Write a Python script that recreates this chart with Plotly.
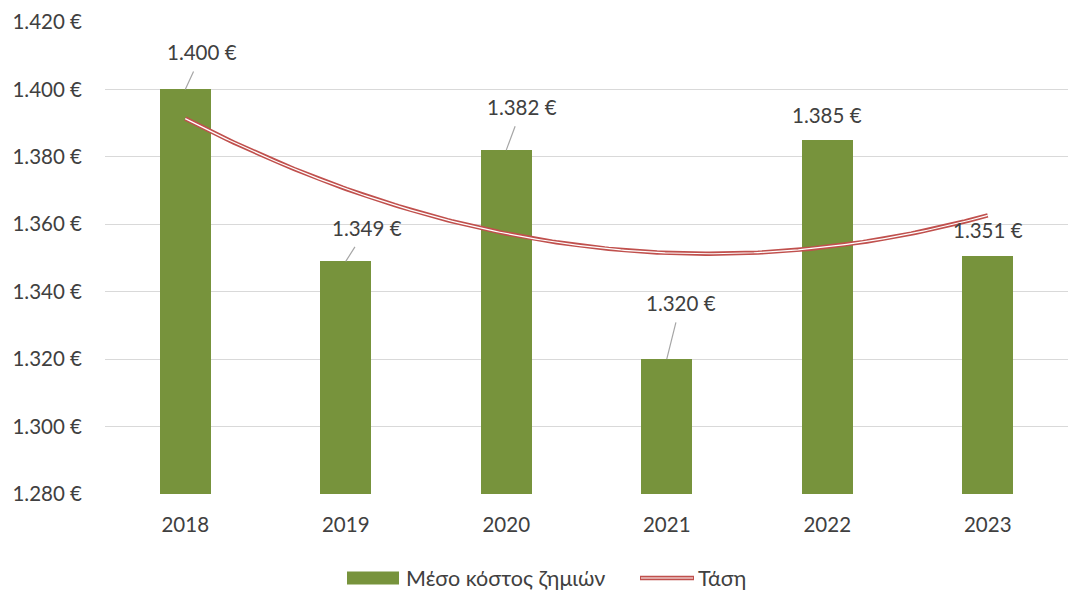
import numpy as np
import plotly.graph_objects as go

years = ["2018", "2019", "2020", "2021", "2022", "2023"]
avg_cost = [1400, 1349, 1382, 1320, 1385, 1350.6]
y_ticks = [1280, 1300, 1320, 1340, 1360, 1380, 1400, 1420]
y_tick_text = ["1.280 €", "1.300 €", "1.320 €", "1.340 €", "1.360 €", "1.380 €", "1.400 €", "1.420 €"]
series_name = "Μέσο κόστος ζημιών"
trend_name = "Τάση"

# label offsets (pixels) from bar top: (dx, dy, leader)
label_offsets = [(17, -37, True), (21, -33, True), (16, -43, True), (14, -56, True), (0, -25, False), (0, -26, False)]

FONT = "Lato, 'Noto Sans', sans-serif"
TXT = "#404040"
GREEN = "#77933C"
RED = "#C0504D"
FS = 20.5

W, H = 1068, 593
ML, MR, MT, MB = 105, 0, 22, 99
PW, PH = W - ML - MR, H - MT - MB

xpos = np.arange(1, len(years) + 1)

fig = go.Figure()
fig.add_trace(go.Bar(
    x=xpos, y=avg_cost, width=0.315, marker=dict(color=GREEN, line=dict(width=0)),
    name=series_name, showlegend=False,
))

# polynomial (order 2) trend line
coef = np.polyfit(xpos, avg_cost, 2)
xs = np.linspace(1, len(years), 200)
ys = np.polyval(coef, xs)
fig.add_trace(go.Scatter(x=xs, y=ys, mode="lines", line=dict(color=RED, width=4.4),
                         name=trend_name, hoverinfo="skip", showlegend=False))
fig.add_trace(go.Scatter(x=xs, y=ys, mode="lines", line=dict(color="white", width=1.2),
                         showlegend=False, hoverinfo="skip"))

def fmt(v):
    return f"{v:,.0f}".replace(",", ".") + " €"

for xi, v, (dx, dy, leader) in zip(xpos, avg_cost, label_offsets):
    if leader:
        fig.add_annotation(
            x=xi, y=v, xref="x", yref="y", text=fmt(v), ax=dx, ay=dy,
            showarrow=True, arrowhead=0, arrowwidth=1.2, arrowcolor="#A6A6A6",
            startstandoff=6, font=dict(family=FONT, size=FS, color=TXT),
        )
    else:
        fig.add_annotation(
            x=xi, y=v, xref="x", yref="y", text=fmt(v), showarrow=False,
            xshift=dx, yshift=-dy, font=dict(family=FONT, size=FS, color=TXT),
        )

# manual legend (pixel positions converted to paper coords)
def px(xp):
    return (xp - ML) / PW

def py(yp):
    return (H - MB - yp) / PH

leg_y = 578
fig.add_shape(type="rect", xref="paper", yref="paper", x0=px(347), x1=px(399),
              y0=py(584.5), y1=py(571.5), fillcolor=GREEN, line=dict(width=0))
fig.add_annotation(xref="paper", yref="paper", x=px(404), y=py(leg_y), xanchor="left",
                   yanchor="middle", text=series_name, showarrow=False,
                   font=dict(family=FONT, size=21.5, color=TXT))
fig.add_shape(type="line", xref="paper", yref="paper", x0=px(640), x1=px(694),
              y0=py(leg_y), y1=py(leg_y), line=dict(color=RED, width=4.4))
fig.add_shape(type="line", xref="paper", yref="paper", x0=px(641), x1=px(693),
              y0=py(leg_y), y1=py(leg_y), line=dict(color="white", width=1.2))
fig.add_annotation(xref="paper", yref="paper", x=px(696), y=py(leg_y), xanchor="left",
                   yanchor="middle", text=trend_name, showarrow=False,
                   font=dict(family=FONT, size=21.5, color=TXT))

fig.update_layout(
    width=W, height=H,
    margin=dict(l=ML, r=MR, t=MT, b=MB, autoexpand=False),
    paper_bgcolor="white", plot_bgcolor="white",
    font=dict(family=FONT, size=FS, color=TXT),
    bargap=0,
    showlegend=False,
    xaxis=dict(range=[0.5, len(years) + 0.5], tickvals=xpos, ticktext=years,
               showgrid=False, zeroline=False, showline=False, ticks="",
               ticklabelstandoff=16,
               tickfont=dict(family=FONT, size=FS, color=TXT)),
    yaxis=dict(range=[y_ticks[0], y_ticks[-1]], tickvals=y_ticks, ticktext=y_tick_text,
               showgrid=True, gridcolor="#D9D9D9", gridwidth=1, zeroline=False, showline=False,
               ticks="", ticklabelstandoff=22,
               tickfont=dict(family=FONT, size=FS, color=TXT)),
)
fig.write_html(
    "out.html",
    config={"displayModeBar": False},
    post_script="document.body.style.margin='0';document.body.style.overflow='hidden';",
)
